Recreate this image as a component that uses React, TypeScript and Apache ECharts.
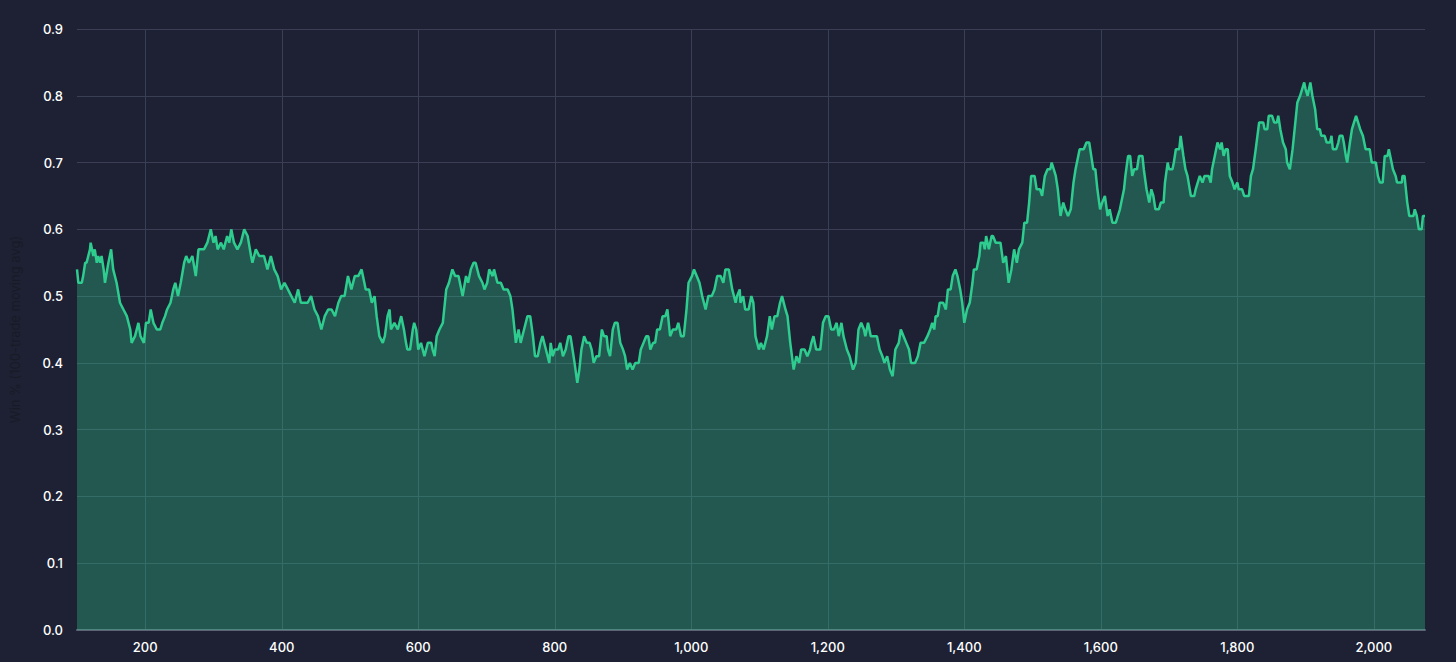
import React, { useEffect, useRef } from "react";
import * as echarts from "echarts";

const tradeIndex: number[] = [
  100, 102, 107, 109, 112, 114, 119, 120, 124, 126, 129, 131, 134, 136, 139, 141, 146, 150, 153, 158,
  163, 168, 173, 178, 180, 185, 190, 193, 198, 201, 205, 208, 212, 217, 222, 225, 229, 232, 237, 241,
  244, 248, 252, 257, 260, 264, 269, 274, 278, 281, 286, 291, 296, 300, 303, 306, 311, 315, 320, 323,
  326, 330, 335, 340, 345, 350, 355, 357, 362, 367, 374, 379, 384, 389, 394, 399, 404, 409, 414, 419,
  424, 428, 433, 438, 443, 448, 453, 458, 463, 468, 473, 478, 483, 487, 492, 497, 502, 507, 512, 517,
  521, 523, 528, 532, 536, 539, 543, 548, 551, 555, 558, 560, 565, 570, 575, 579, 582, 584, 588, 592,
  594, 597, 600, 604, 609, 614, 619, 621, 624, 627, 631, 636, 641, 645, 650, 654, 659, 665, 670, 673,
  677, 681, 684, 689, 694, 697, 701, 704, 709, 711, 716, 721, 725, 731, 735, 738, 743, 747, 750, 755,
  760, 764, 768, 771, 775, 779, 782, 787, 792, 794, 797, 800, 805, 808, 812, 816, 820, 823, 826, 829,
  833, 836, 839, 843, 847, 851, 854, 857, 861, 865, 869, 872, 876, 878, 881, 885, 888, 892, 896, 900,
  903, 906, 910, 914, 918, 923, 926, 930, 934, 937, 940, 944, 947, 950, 954, 958, 962, 965, 969, 973,
  978, 981, 985, 989, 993, 996, 1001, 1004, 1008, 1012, 1016, 1021, 1025, 1030, 1034, 1038, 1043, 1047, 1050, 1055,
  1060, 1065, 1067, 1071, 1072, 1076, 1079, 1084, 1088, 1091, 1094, 1099, 1102, 1106, 1111, 1115, 1118, 1122, 1126, 1130,
  1133, 1138, 1141, 1145, 1150, 1154, 1158, 1161, 1166, 1170, 1174, 1176, 1179, 1183, 1189, 1193, 1197, 1201, 1205, 1209,
  1213, 1216, 1220, 1223, 1228, 1232, 1237, 1241, 1245, 1249, 1253, 1255, 1259, 1263, 1267, 1272, 1276, 1280, 1283, 1287,
  1291, 1295, 1299, 1304, 1307, 1311, 1315, 1319, 1322, 1328, 1332, 1336, 1341, 1346, 1350, 1353, 1356, 1358, 1361, 1364,
  1369, 1373, 1376, 1380, 1383, 1387, 1390, 1394, 1397, 1400, 1404, 1408, 1412, 1414, 1418, 1422, 1424, 1428, 1430, 1432,
  1436, 1440, 1442, 1446, 1453, 1457, 1461, 1465, 1469, 1473, 1477, 1480, 1485, 1488, 1492, 1495, 1498, 1503, 1506, 1511,
  1514, 1518, 1522, 1526, 1528, 1531, 1534, 1537, 1541, 1545, 1548, 1552, 1556, 1560, 1563, 1567, 1569, 1575, 1579, 1583,
  1586, 1589, 1592, 1595, 1599, 1602, 1606, 1610, 1613, 1617, 1622, 1625, 1628, 1630, 1634, 1636, 1640, 1643, 1646, 1649,
  1653, 1656, 1661, 1663, 1667, 1671, 1674, 1677, 1680, 1685, 1688, 1692, 1694, 1698, 1700, 1705, 1707, 1710, 1715, 1717,
  1721, 1724, 1727, 1732, 1737, 1739, 1742, 1745, 1749, 1752, 1758, 1761, 1763, 1767, 1771, 1775, 1777, 1780, 1783, 1786,
  1789, 1793, 1796, 1800, 1802, 1807, 1810, 1817, 1820, 1823, 1827, 1832, 1838, 1840, 1844, 1846, 1851, 1854, 1858, 1860,
  1863, 1867, 1871, 1873, 1877, 1881, 1884, 1888, 1892, 1895, 1898, 1900, 1903, 1905, 1907, 1910, 1914, 1917, 1921, 1923,
  1928, 1931, 1936, 1938, 1940, 1945, 1948, 1950, 1954, 1956, 1959, 1961, 1965, 1968, 1971, 1974, 1977, 1980, 1984, 1988,
  1994, 1997, 2003, 2006, 2009, 2013, 2016, 2020, 2022, 2026, 2028, 2032, 2034, 2041, 2042, 2045, 2049, 2052, 2058, 2060,
  2063, 2066, 2070, 2072, 2075,
];

const winRate: number[] = [
  0.54, 0.52, 0.52, 0.53, 0.55, 0.55, 0.57, 0.58, 0.56, 0.57, 0.55, 0.56, 0.55, 0.56, 0.54, 0.52, 0.55, 0.57, 0.54, 0.52,
  0.49, 0.48, 0.47, 0.45, 0.43, 0.44, 0.46, 0.44, 0.43, 0.46, 0.46, 0.48, 0.46, 0.45, 0.45, 0.46, 0.47, 0.48, 0.49, 0.51,
  0.52, 0.5, 0.52, 0.55, 0.56, 0.55, 0.56, 0.53, 0.57, 0.57, 0.57, 0.58, 0.6, 0.58, 0.59, 0.57, 0.58, 0.57, 0.59, 0.58,
  0.6, 0.58, 0.57, 0.58, 0.6, 0.59, 0.56, 0.55, 0.57, 0.56, 0.56, 0.54, 0.56, 0.54, 0.53, 0.51, 0.52, 0.51, 0.5, 0.49,
  0.51, 0.49, 0.49, 0.49, 0.5, 0.48, 0.47, 0.45, 0.47, 0.48, 0.48, 0.47, 0.49, 0.5, 0.5, 0.53, 0.51, 0.53, 0.53, 0.54,
  0.52, 0.51, 0.51, 0.49, 0.5, 0.47, 0.44, 0.43, 0.44, 0.47, 0.48, 0.45, 0.46, 0.45, 0.47, 0.45, 0.43, 0.42, 0.42, 0.45,
  0.46, 0.45, 0.42, 0.43, 0.41, 0.43, 0.43, 0.42, 0.41, 0.44, 0.45, 0.46, 0.51, 0.52, 0.54, 0.53, 0.53, 0.5, 0.53, 0.52,
  0.54, 0.55, 0.55, 0.53, 0.52, 0.51, 0.52, 0.54, 0.53, 0.54, 0.52, 0.52, 0.51, 0.51, 0.5, 0.48, 0.43, 0.45, 0.43, 0.45,
  0.47, 0.47, 0.44, 0.41, 0.41, 0.43, 0.44, 0.42, 0.4, 0.43, 0.41, 0.42, 0.42, 0.43, 0.41, 0.42, 0.44, 0.44, 0.42, 0.4,
  0.37, 0.39, 0.42, 0.44, 0.43, 0.43, 0.42, 0.4, 0.41, 0.41, 0.45, 0.44, 0.44, 0.42, 0.41, 0.45, 0.46, 0.46, 0.43, 0.42,
  0.41, 0.39, 0.4, 0.39, 0.4, 0.4, 0.42, 0.43, 0.44, 0.44, 0.42, 0.43, 0.43, 0.45, 0.45, 0.47, 0.47, 0.48, 0.44, 0.45,
  0.45, 0.46, 0.44, 0.44, 0.48, 0.52, 0.53, 0.54, 0.53, 0.52, 0.5, 0.48, 0.5, 0.5, 0.51, 0.53, 0.53, 0.52, 0.54, 0.54,
  0.51, 0.49, 0.5, 0.51, 0.49, 0.5, 0.48, 0.48, 0.5, 0.49, 0.44, 0.42, 0.43, 0.42, 0.44, 0.47, 0.45, 0.47, 0.47, 0.49,
  0.5, 0.48, 0.47, 0.43, 0.39, 0.41, 0.4, 0.42, 0.42, 0.41, 0.42, 0.43, 0.44, 0.42, 0.42, 0.46, 0.47, 0.47, 0.45, 0.45,
  0.46, 0.44, 0.46, 0.44, 0.42, 0.41, 0.39, 0.4, 0.45, 0.46, 0.45, 0.44, 0.46, 0.44, 0.44, 0.44, 0.42, 0.41, 0.4, 0.41,
  0.39, 0.38, 0.42, 0.43, 0.45, 0.44, 0.43, 0.42, 0.4, 0.4, 0.41, 0.43, 0.43, 0.44, 0.45, 0.46, 0.45, 0.47, 0.47, 0.49,
  0.49, 0.48, 0.51, 0.51, 0.53, 0.54, 0.53, 0.51, 0.49, 0.46, 0.48, 0.49, 0.52, 0.54, 0.54, 0.56, 0.58, 0.58, 0.57, 0.59,
  0.57, 0.59, 0.59, 0.58, 0.58, 0.55, 0.56, 0.52, 0.54, 0.57, 0.55, 0.57, 0.58, 0.61, 0.61, 0.64, 0.68, 0.68, 0.66, 0.66,
  0.65, 0.68, 0.69, 0.69, 0.7, 0.69, 0.68, 0.66, 0.62, 0.64, 0.63, 0.62, 0.63, 0.67, 0.69, 0.71, 0.72, 0.72, 0.73, 0.73,
  0.71, 0.69, 0.69, 0.66, 0.63, 0.64, 0.65, 0.62, 0.63, 0.61, 0.61, 0.62, 0.63, 0.64, 0.66, 0.68, 0.71, 0.71, 0.68, 0.69,
  0.69, 0.71, 0.71, 0.69, 0.66, 0.64, 0.66, 0.65, 0.63, 0.63, 0.64, 0.64, 0.67, 0.7, 0.69, 0.69, 0.7, 0.72, 0.72, 0.74,
  0.71, 0.69, 0.68, 0.65, 0.65, 0.66, 0.67, 0.68, 0.67, 0.68, 0.68, 0.67, 0.69, 0.71, 0.73, 0.72, 0.73, 0.71, 0.72, 0.72,
  0.68, 0.67, 0.66, 0.67, 0.66, 0.66, 0.65, 0.65, 0.68, 0.69, 0.72, 0.76, 0.76, 0.75, 0.75, 0.77, 0.77, 0.76, 0.76, 0.77,
  0.75, 0.73, 0.72, 0.7, 0.69, 0.72, 0.75, 0.79, 0.8, 0.81, 0.82, 0.81, 0.8, 0.81, 0.82, 0.8, 0.78, 0.75, 0.75, 0.74,
  0.74, 0.73, 0.73, 0.74, 0.72, 0.72, 0.73, 0.74, 0.74, 0.73, 0.71, 0.7, 0.73, 0.75, 0.76, 0.77, 0.76, 0.75, 0.74, 0.72,
  0.72, 0.7, 0.7, 0.68, 0.67, 0.67, 0.71, 0.71, 0.72, 0.7, 0.69, 0.68, 0.67, 0.67, 0.68, 0.68, 0.64, 0.62, 0.62, 0.63,
  0.62, 0.6, 0.6, 0.62, 0.62,
];

const yAxisTitle = "Win % (100-trade moving avg)";

const BG = "#1d2133";
const LINE = "#2ecc8f";
const FONT = "Inter, 'Noto Sans', sans-serif";

export default function App() {
  const ref = useRef<HTMLDivElement | null>(null);

  useEffect(() => {
    document.body.style.margin = "0";
    document.body.style.background = BG;
    if (!ref.current) return;
    const chart = echarts.init(ref.current, null, { renderer: "svg" });
    const data = tradeIndex.map((x, i) => [x, winRate[i]]);
    chart.setOption({
      animation: false,
      backgroundColor: BG,
      grid: { left: 77, right: 31, top: 29, bottom: 32, containLabel: false, outerBoundsMode: "none" },
      xAxis: {
        type: "value",
        min: 100,
        max: 2075,
        splitNumber: 10,
        axisLine: { show: true, lineStyle: { color: "#5d6478", width: 2 } },
        axisTick: { show: false },
        axisLabel: {
          color: "#ffffff",
          fontFamily: FONT,
          fontSize: 13,
          fontWeight: 500,
          margin: 10,
          showMinLabel: false,
          showMaxLabel: false,
          formatter: (v: number) => v.toLocaleString("en-US"),
        },
        splitLine: {
          show: true,
          showMinLine: false,
          showMaxLine: false,
          lineStyle: { color: "#3a3f55", width: 1 },
        },
      },
      yAxis: {
        type: "value",
        min: 0,
        max: 0.9,
        interval: 0.1,
        name: yAxisTitle,
        nameLocation: "middle",
        nameRotate: 90,
        nameGap: 56,
        nameTextStyle: { color: "#181b26", fontFamily: FONT, fontSize: 13 },
        axisLine: { show: false },
        axisTick: { show: false },
        axisLabel: {
          color: "#ffffff",
          fontFamily: FONT,
          fontSize: 13,
          fontWeight: 500,
          margin: 14,
          formatter: (v: number) => v.toFixed(1),
        },
        splitLine: { show: true, lineStyle: { color: "#3a3f55", width: 1 } },
      },
      series: [
        {
          type: "line",
          data,
          showSymbol: false,
          symbol: "none",
          lineStyle: { color: LINE, width: 2.5 },
          areaStyle: { color: LINE, opacity: 0.32 },
          z: 3,
        },
      ],
    });
    return () => chart.dispose();
  }, []);

  return (
    <div
      ref={ref}
      style={{ position: "fixed", left: 0, top: 0, width: "100vw", height: "100vh", background: BG }}
    />
  );
}
